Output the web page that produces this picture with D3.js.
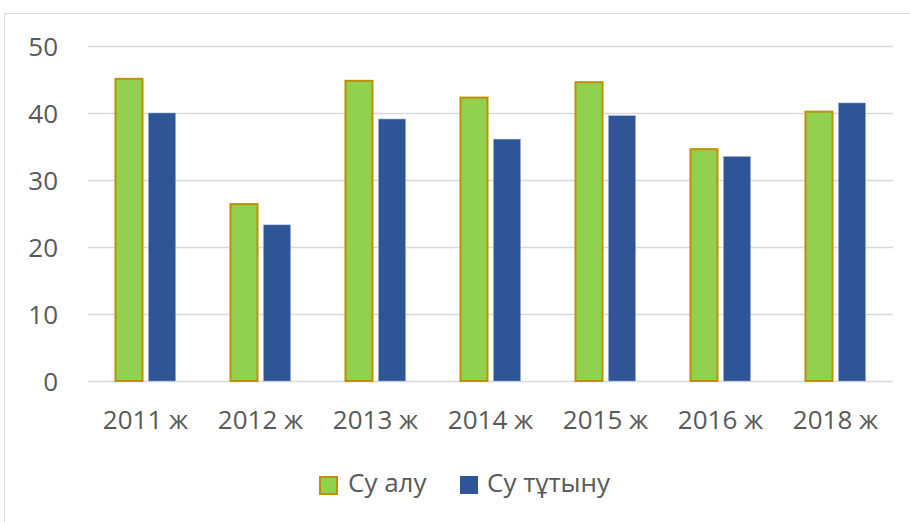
<!DOCTYPE html>
<html>
<head>
<meta charset="utf-8">
<script src="https://cdn.jsdelivr.net/npm/d3@7"></script>
<style>
  body { margin: 0; background: #fff; }
  text { font-family: "Open Sans", sans-serif; fill: #595959; }
</style>
</head>
<body>
<div id="wrapper"></div>
<script>
// data
const years = ["2011 ж", "2012 ж", "2013 ж", "2014 ж", "2015 ж", "2016 ж", "2018 ж"];
const suAlu = [45.1, 26.4, 44.8, 42.3, 44.6, 34.6, 40.2];
const suTutynu = [40.0, 23.3, 39.1, 36.1, 39.6, 33.5, 41.5];
const seriesNames = ["Су алу", "Су тұтыну"];
const yTicks = [0, 10, 20, 30, 40, 50];

const width = 910, height = 522;
const margin = { top: 46, left: 88, right: 17, bottom: 141 };
const fontSize = "26px";

const svg = d3.select("#wrapper").append("svg")
    .attr("width", width)
    .attr("height", height);

// chart border
svg.append("rect")
    .attr("x", 4.5).attr("y", 13.5)
    .attr("width", 920).attr("height", 520)
    .attr("fill", "none")
    .attr("stroke", "#d9d9d9");

const y = d3.scaleLinear()
    .domain([0, 50])
    .range([height - margin.bottom, margin.top]);

const x = d3.scaleBand()
    .domain(years)
    .range([margin.left, width - margin.right]);

const barW = x.bandwidth() * 0.235;
const gap = 6;

// gridlines
svg.append("g")
    .selectAll("line")
    .data(yTicks)
    .join("line")
    .attr("x1", margin.left).attr("x2", width - margin.right)
    .attr("y1", d => Math.round(y(d)) + 0.5).attr("y2", d => Math.round(y(d)) + 0.5)
    .attr("stroke", "#d9d9d9")
    .attr("stroke-width", 1.5);

// y axis labels
const yAxis = d3.axisLeft(y).tickValues(yTicks).tickSize(0).tickPadding(0);
svg.append("g")
    .attr("transform", `translate(58,0)`)
    .call(yAxis)
    .call(g => g.select(".domain").remove())
    .selectAll("text")
    .style("font-size", fontSize)
    .attr("dy", "0.36em")
    .attr("fill", "#595959");

// x axis labels
const xAxis = d3.axisBottom(x).tickSize(0).tickPadding(0);
svg.append("g")
    .attr("transform", `translate(0,429)`)
    .call(xAxis)
    .call(g => g.select(".domain").remove())
    .selectAll("text")
    .attr("dy", 0)
    .style("font-size", fontSize)
    .attr("fill", "#595959");

const centre = d => x(d) + x.bandwidth() / 2;

// Су алу bars
svg.append("g")
    .selectAll("rect")
    .data(years)
    .join("rect")
    .attr("x", d => centre(d) - gap / 2 - barW)
    .attr("y", (d, i) => y(suAlu[i]))
    .attr("width", barW)
    .attr("height", (d, i) => y(0) - y(suAlu[i]))
    .attr("fill", "#92d050")
    .attr("stroke", "#bf9000")
    .attr("stroke-width", 2);

// Су тұтыну bars
svg.append("g")
    .selectAll("rect")
    .data(years)
    .join("rect")
    .attr("x", d => centre(d) + gap / 2)
    .attr("y", (d, i) => y(suTutynu[i]))
    .attr("width", barW)
    .attr("height", (d, i) => y(0) - y(suTutynu[i]))
    .attr("fill", "#2f5597")
    .attr("stroke", "#8faadc")
    .attr("stroke-width", 0.5);

// legend
const legend = svg.append("g").attr("transform", "translate(319,476)");
legend.append("rect")
    .attr("x", 1).attr("y", 1).attr("width", 17).attr("height", 17)
    .attr("fill", "#92d050").attr("stroke", "#bf9000").attr("stroke-width", 2);
legend.append("text")
    .attr("x", 29).attr("y", 16)
    .style("font-size", fontSize)
    .text(seriesNames[0]);
legend.append("rect")
    .attr("x", 141).attr("y", 0).attr("width", 18).attr("height", 18)
    .attr("fill", "#2f5597");
legend.append("text")
    .attr("x", 168).attr("y", 16)
    .style("font-size", fontSize)
    .text(seriesNames[1]);
</script>
</body>
</html>
